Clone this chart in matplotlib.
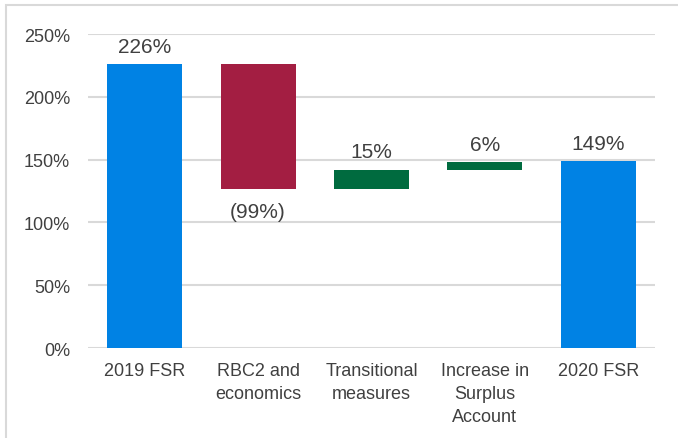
import matplotlib.pyplot as plt
from matplotlib.patches import Rectangle

plt.rcParams['font.family'] = ['Liberation Sans', 'DejaVu Sans']

# данные водопада
categories = ['2019 FSR', 'RBC2 and\neconomics', 'Transitional\nmeasures',
              'Increase in\nSurplus\nAccount', '2020 FSR']
start_value = 226
changes = [-99, 15, 6]
end_value = 149
labels = ['226%', '(99%)', '15%', '6%', '149%']

blue = '#0082E4'
red = '#A31E42'
green = '#006B3F'
text_col = '#404040'

fig = plt.figure(figsize=(6.78, 4.39), dpi=100)
ax = fig.add_axes([0.1298, 0.205, 0.8362, 0.715])

# рамка вокруг всего рисунка
fig.patches.append(Rectangle((6 / 678, -0.1), 1.2, (439 - 6) / 439 + 0.1,
                             transform=fig.transFigure, fill=False,
                             edgecolor='#D9D9D9', linewidth=1.5))

bottoms = []
heights = []
colors = []
bottoms.append(0)
heights.append(start_value)
colors.append(blue)
level = start_value
for c in changes:
    if c < 0:
        bottoms.append(level + c)
        heights.append(-c)
        colors.append(red)
    else:
        bottoms.append(level)
        heights.append(c)
        colors.append(green)
    level += c
bottoms.append(0)
heights.append(end_value)
colors.append(blue)

x = range(len(categories))
ax.bar(x, heights, bottom=bottoms, color=colors, width=0.66, zorder=3)

for i in x:
    top = bottoms[i] + heights[i]
    if i == 1:
        ax.annotate(labels[i], (i, bottoms[i]), xytext=(0, -10),
                    textcoords='offset points', ha='center', va='top',
                    fontsize=15, color=text_col)
    else:
        ax.annotate(labels[i], (i, top), xytext=(0, 6),
                    textcoords='offset points', ha='center', va='bottom',
                    fontsize=15, color=text_col)

ax.set_ylim(0, 250)
ax.set_xlim(-0.5, len(categories) - 0.5)
ax.set_yticks(range(0, 251, 50))
ax.set_yticklabels([f'{v}%' for v in range(0, 251, 50)])
ax.set_xticks(list(x))
ax.set_xticklabels(categories, linespacing=1.45)
ax.tick_params(axis='both', length=0, labelsize=13, colors=text_col)
ax.tick_params(axis='y', pad=13)
ax.tick_params(axis='x', pad=10)
ax.grid(axis='y', color='#D9D9D9', linewidth=1.5, zorder=0)
ax.set_axisbelow(True)
for s in ax.spines.values():
    s.set_visible(False)

fig.savefig('out.png', dpi=100)
